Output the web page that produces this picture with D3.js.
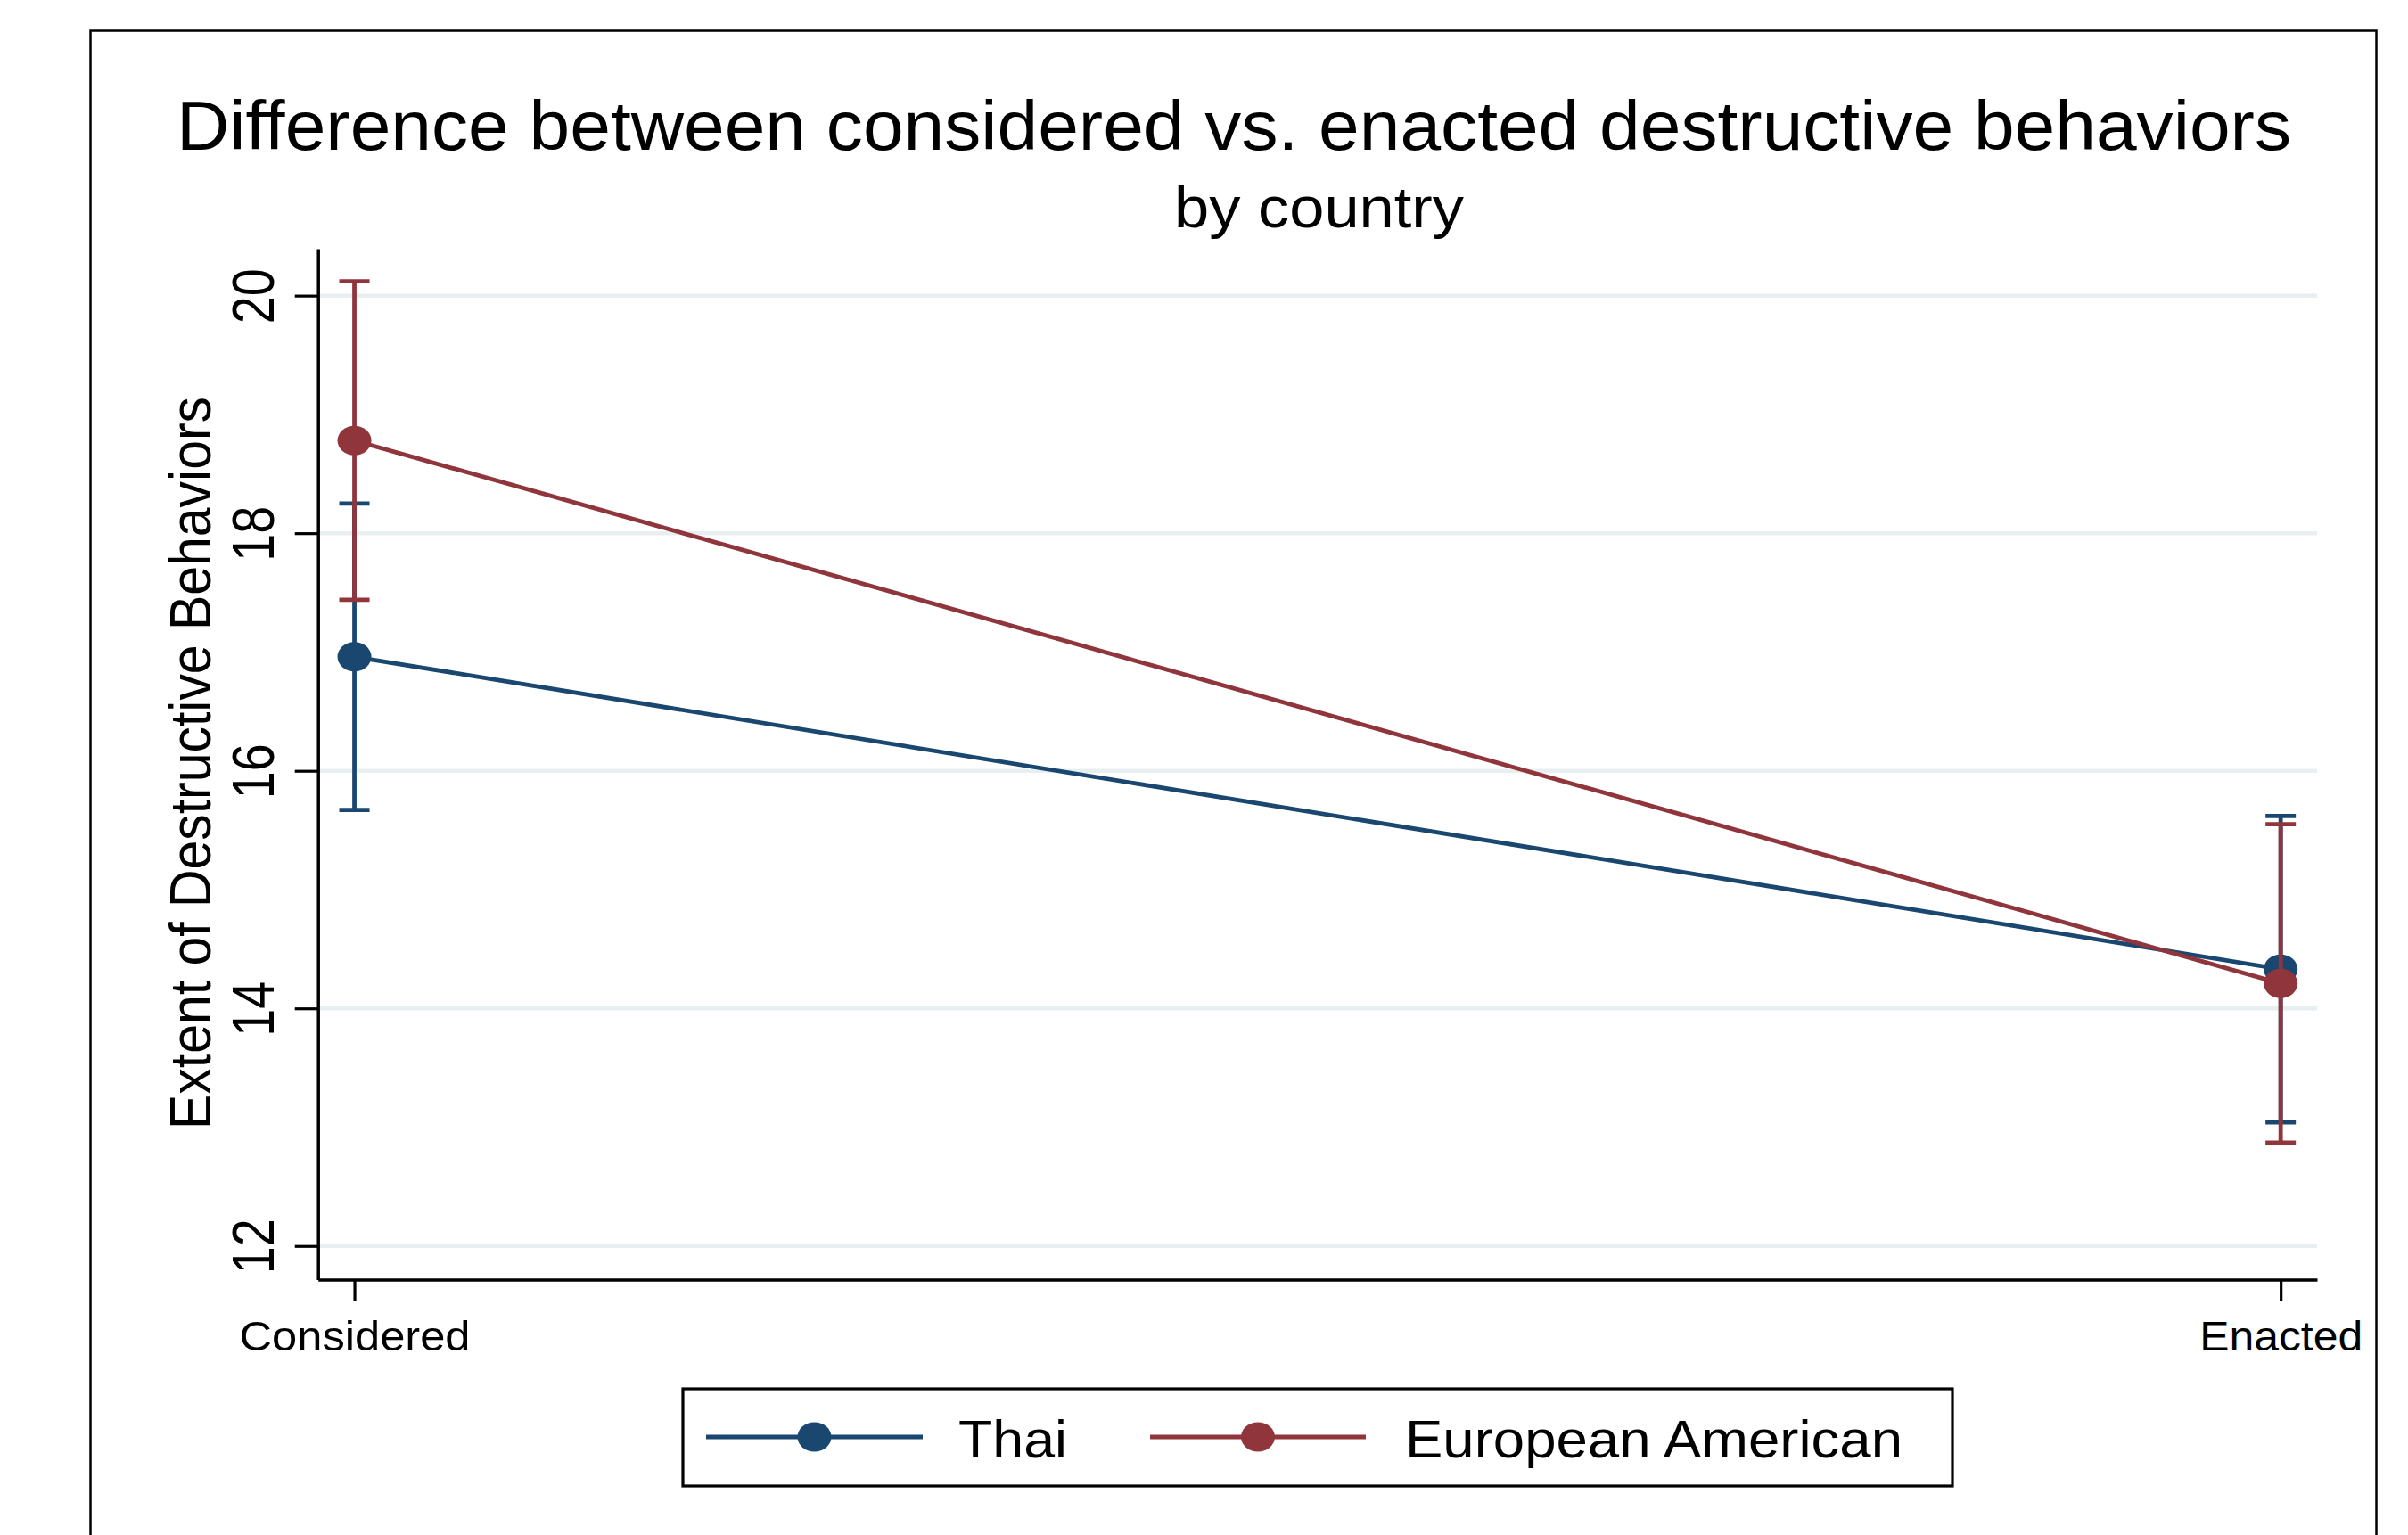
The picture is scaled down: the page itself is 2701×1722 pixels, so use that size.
<!DOCTYPE html>
<html>
<head>
<meta charset="utf-8">
<script src="https://cdn.jsdelivr.net/npm/d3@7"></script>
<style>
  html, body { margin: 0; padding: 0; background: #ffffff; }
  svg { display: block; }
  text { font-family: "Liberation Sans", Arial, Helvetica, sans-serif; fill: #000; }
</style>
</head>
<body>
<svg id="chart" width="2701" height="1722"></svg>
<script>
// Occasions on the x axis
const categories = ["Considered", "Enacted"];

// Thai: means with 95% confidence limits
const thaiMean = [16.96, 14.33];
const thaiLow  = [15.67, 13.04];
const thaiHigh = [18.25, 15.62];

// European American: means with 95% confidence limits
const euroMean = [18.78, 14.21];
const euroLow  = [17.44, 12.87];
const euroHigh = [20.12, 15.55];

const yTicks = [12, 14, 16, 18, 20];
const seriesNames = ["Thai", "European American"];
const seriesColors = ["#1a476f", "#90353b"];

const series = [
  { name: seriesNames[0], color: seriesColors[0], mean: thaiMean, low: thaiLow, high: thaiHigh },
  { name: seriesNames[1], color: seriesColors[1], mean: euroMean, low: euroLow, high: euroHigh }
];

const svg = d3.select("#chart");

// Outer graph frame
svg.append("rect")
  .attr("x", 101.5).attr("y", 34.5)
  .attr("width", 2564).attr("height", 1720)
  .attr("fill", "#fff").attr("stroke", "#000").attr("stroke-width", 2.5);

// Plot region
const plot = { left: 356.7, right: 2599, top: 279, bottom: 1435.6 };

const x = d3.scalePoint()
  .domain(categories)
  .range([plot.left, plot.right])
  .padding(0.0189);

const y = d3.scaleLinear()
  .domain([11.716, 20.395])
  .range([plot.bottom, plot.top]);

// Horizontal grid lines
svg.append("g").selectAll("line")
  .data(yTicks)
  .join("line")
  .attr("x1", plot.left).attr("x2", plot.right)
  .attr("y1", d => y(d)).attr("y2", d => y(d))
  .attr("stroke", "#e8eff1").attr("stroke-width", 4.5);

// Y axis
const yAxis = svg.append("g")
  .attr("transform", `translate(${plot.left},0)`)
  .call(d3.axisLeft(y).tickValues(yTicks).tickSize(26).tickSizeOuter(0).tickFormat(d3.format("d")));
yAxis.select(".domain").attr("stroke", "#000").attr("stroke-width", 3.5);
yAxis.selectAll(".tick line").attr("stroke", "#000").attr("stroke-width", 3.2);
yAxis.selectAll(".tick text")
  .attr("transform", "rotate(-90)")
  .attr("x", 0).attr("y", -49.7).attr("dy", 0)
  .attr("text-anchor", "middle")
  .attr("font-size", 66)
  .attr("textLength", 62).attr("lengthAdjust", "spacingAndGlyphs")
  .style("font-family", "'Liberation Sans', Arial, sans-serif")
  .attr("fill", "#000");

// X axis
const xAxis = svg.append("g")
  .attr("transform", `translate(0,${plot.bottom})`)
  .call(d3.axisBottom(x).tickSize(24).tickSizeOuter(0));
xAxis.select(".domain").attr("stroke", "#000").attr("stroke-width", 3.5);
xAxis.selectAll(".tick line").attr("stroke", "#000").attr("stroke-width", 3.2);
const xLabelLength = { Considered: 259, Enacted: 183 };
xAxis.selectAll(".tick text")
  .attr("y", 79.4).attr("dy", 0)
  .attr("font-size", 46)
  .attr("textLength", d => xLabelLength[d]).attr("lengthAdjust", "spacingAndGlyphs")
  .style("font-family", "'Liberation Sans', Arial, sans-serif")
  .attr("fill", "#000");

// Series: error bars, connecting line, markers
const capHalf = 17;
const markW = 4.8;
series.forEach(s => {
  const g = svg.append("g");
  const pts = categories.map((c, i) => ({ c, mean: s.mean[i], low: s.low[i], high: s.high[i] }));

  g.selectAll(".ci").data(pts).join("line")
    .attr("x1", d => x(d.c)).attr("x2", d => x(d.c))
    .attr("y1", d => y(d.low)).attr("y2", d => y(d.high))
    .attr("stroke", s.color).attr("stroke-width", markW);
  g.selectAll(".capHigh").data(pts).join("line")
    .attr("x1", d => x(d.c) - capHalf).attr("x2", d => x(d.c) + capHalf)
    .attr("y1", d => y(d.high)).attr("y2", d => y(d.high))
    .attr("stroke", s.color).attr("stroke-width", markW);
  g.selectAll(".capLow").data(pts).join("line")
    .attr("x1", d => x(d.c) - capHalf).attr("x2", d => x(d.c) + capHalf)
    .attr("y1", d => y(d.low)).attr("y2", d => y(d.low))
    .attr("stroke", s.color).attr("stroke-width", markW);

  g.append("path")
    .datum(pts)
    .attr("d", d3.line().x(d => x(d.c)).y(d => y(d.mean)))
    .attr("fill", "none").attr("stroke", s.color).attr("stroke-width", markW);

  g.selectAll("ellipse").data(pts).join("ellipse")
    .attr("cx", d => x(d.c)).attr("cy", d => y(d.mean))
    .attr("rx", 19).attr("ry", 16.5)
    .attr("fill", s.color);
});

// Titles
svg.append("text")
  .attr("x", 1384).attr("y", 168)
  .attr("text-anchor", "middle")
  .attr("font-size", 77)
  .attr("textLength", 2372).attr("lengthAdjust", "spacingAndGlyphs")
  .text("Difference between considered vs. enacted destructive behaviors");

svg.append("text")
  .attr("x", 1479.5).attr("y", 255)
  .attr("text-anchor", "middle")
  .attr("font-size", 65)
  .attr("textLength", 325).attr("lengthAdjust", "spacingAndGlyphs")
  .text("by country");

// Y axis title
svg.append("text")
  .attr("transform", "translate(236,856) rotate(-90)")
  .attr("text-anchor", "middle")
  .attr("font-size", 65)
  .attr("textLength", 822).attr("lengthAdjust", "spacingAndGlyphs")
  .text("Extent of Destructive Behaviors");

// Legend
const legend = svg.append("g");
legend.append("rect")
  .attr("x", 766).attr("y", 1558)
  .attr("width", 1424).attr("height", 109)
  .attr("fill", "#fff").attr("stroke", "#000").attr("stroke-width", 3.2);

const legendItems = [
  { name: seriesNames[0], color: seriesColors[0], x0: 792, x1: 1035, tx: 1075, tl: 122 },
  { name: seriesNames[1], color: seriesColors[1], x0: 1290, x1: 1532, tx: 1576, tl: 558 }
];
const legendY = 1612;
legendItems.forEach(it => {
  legend.append("line")
    .attr("x1", it.x0).attr("x2", it.x1)
    .attr("y1", legendY).attr("y2", legendY)
    .attr("stroke", it.color).attr("stroke-width", markW);
  legend.append("ellipse")
    .attr("cx", (it.x0 + it.x1) / 2).attr("cy", legendY)
    .attr("rx", 19).attr("ry", 16.5)
    .attr("fill", it.color);
  legend.append("text")
    .attr("x", it.tx).attr("y", 1635)
    .attr("font-size", 60)
    .attr("textLength", it.tl).attr("lengthAdjust", "spacingAndGlyphs")
    .text(it.name);
});
</script>
</body>
</html>
